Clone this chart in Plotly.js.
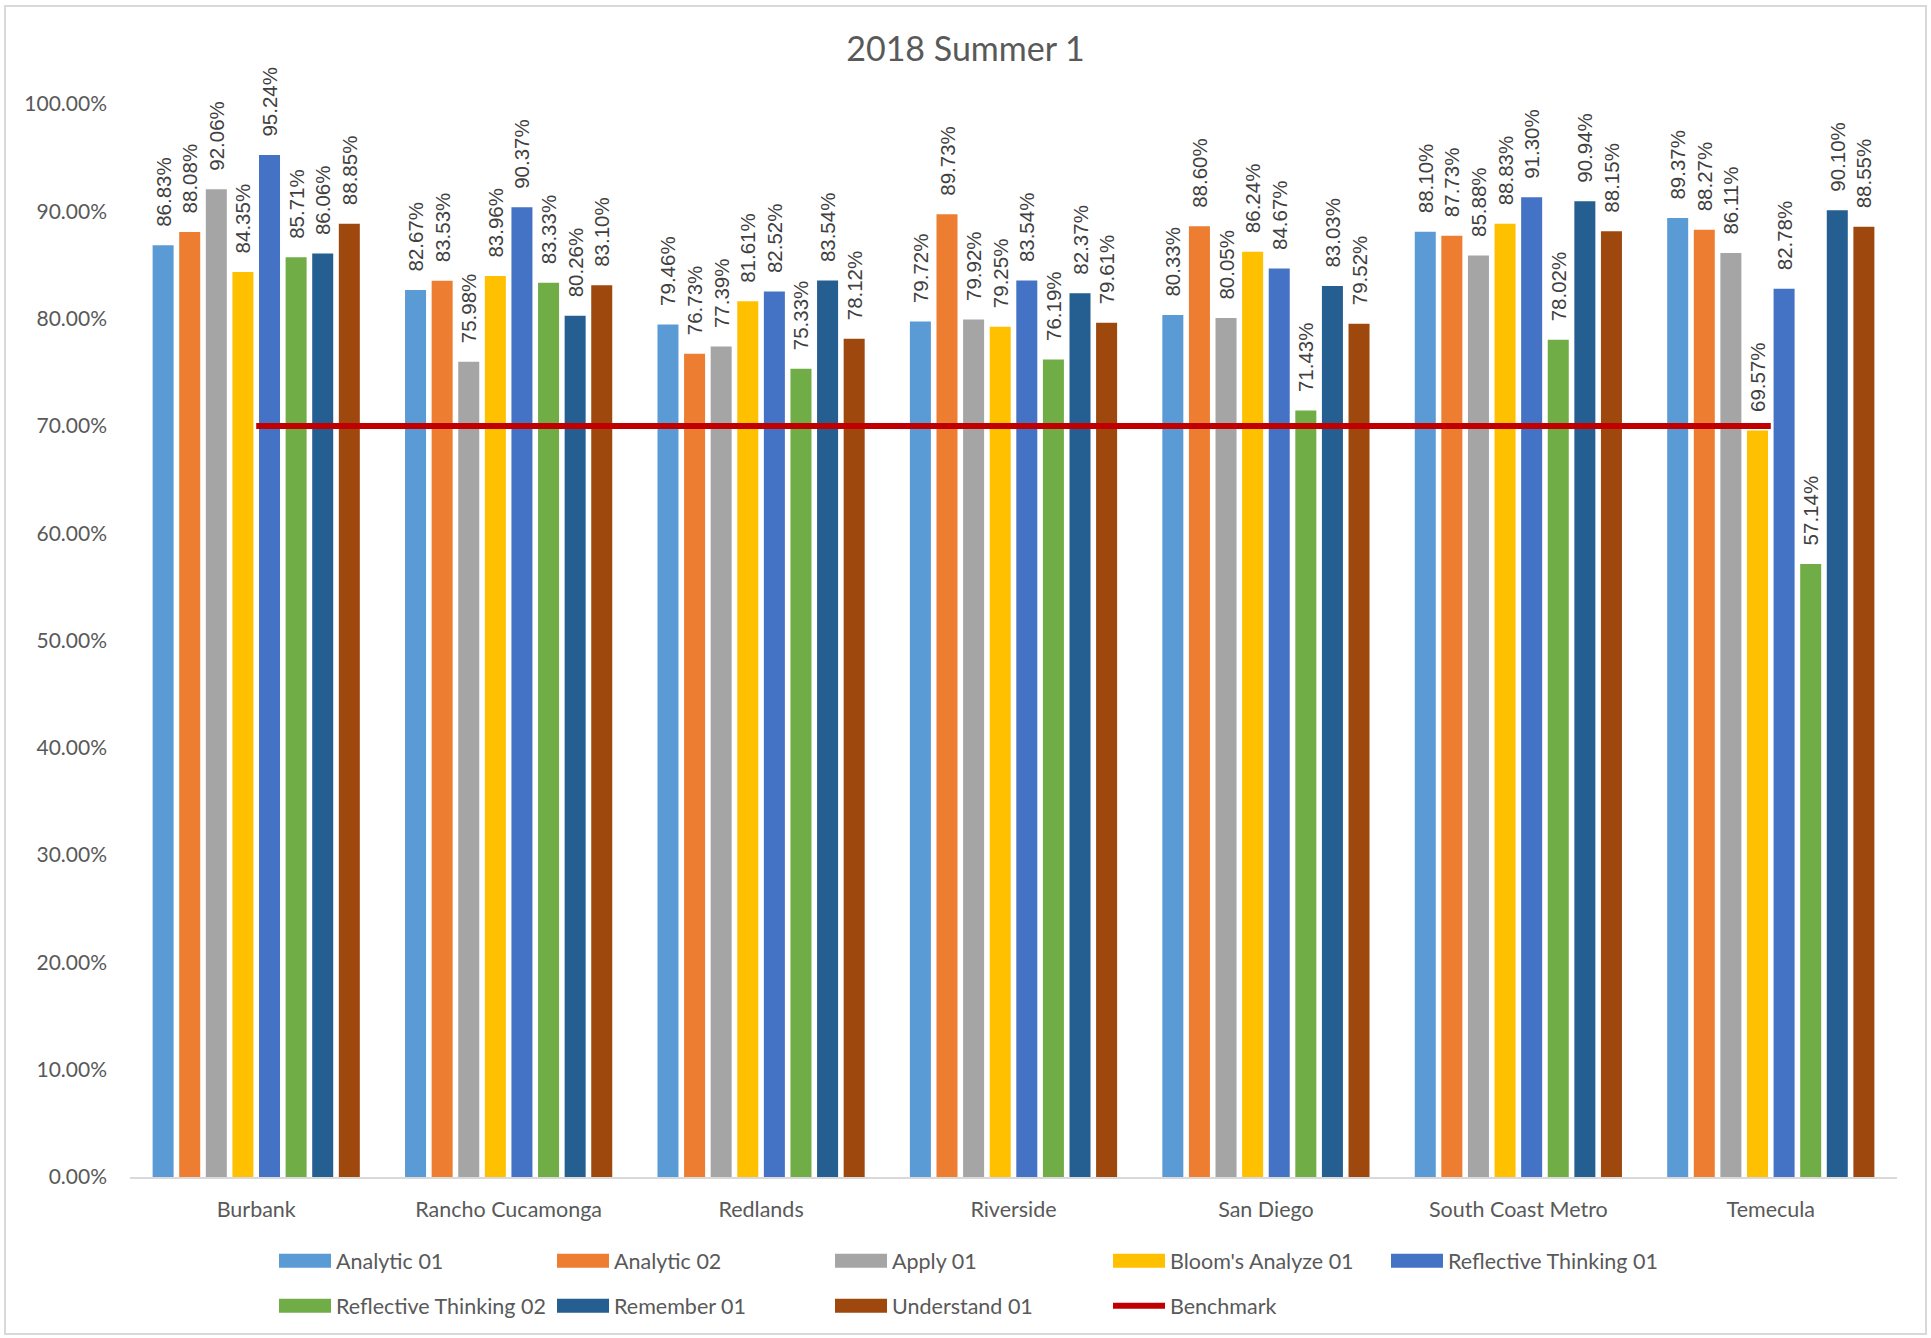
<!DOCTYPE html>
<html>
<head>
<meta charset="utf-8">
<script src="https://cdn.plot.ly/plotly-3.0.1.min.js"></script>
<style>
  html, body { margin: 0; padding: 0; background: #ffffff; }
  #chart { width: 1931px; height: 1338px; }
  #frame { position: absolute; left: 4px; top: 5px; width: 1923px; height: 1330px;
           border: 2px solid #D9D9D9; box-sizing: border-box; pointer-events: none; }
</style>
</head>
<body>
<div id="chart"></div>
<div id="frame"></div>
<script>
// ---- data ----
const campuses = ["Burbank", "Rancho Cucamonga", "Redlands", "Riverside", "San Diego", "South Coast Metro", "Temecula"];

const analytic01      = [86.83, 82.67, 79.46, 79.72, 80.33, 88.10, 89.37];
const analytic02      = [88.08, 83.53, 76.73, 89.73, 88.60, 87.73, 88.27];
const apply01         = [92.06, 75.98, 77.39, 79.92, 80.05, 85.88, 86.11];
const bloomsAnalyze01 = [84.35, 83.96, 81.61, 79.25, 86.24, 88.83, 69.57];
const reflective01    = [95.24, 90.37, 82.52, 83.54, 84.67, 91.30, 82.78];
const reflective02    = [85.71, 83.33, 75.33, 76.19, 71.43, 78.02, 57.14];
const remember01      = [86.06, 80.26, 83.54, 82.37, 83.03, 90.94, 90.10];
const understand01    = [88.85, 83.10, 78.12, 79.61, 79.52, 88.15, 88.55];
const benchmark       = [70, 70, 70, 70, 70, 70, 70];

const seriesNames  = ["Analytic 01", "Analytic 02", "Apply 01", "Bloom's Analyze 01",
                      "Reflective Thinking 01", "Reflective Thinking 02", "Remember 01", "Understand 01"];
const seriesValues = [analytic01, analytic02, apply01, bloomsAnalyze01,
                      reflective01, reflective02, remember01, understand01];
const seriesColors = ["#5B9BD5", "#ED7D31", "#A5A5A5", "#FFC000",
                      "#4472C4", "#70AD47", "#255E91", "#9E480E"];

const yTicks = [0, 10, 20, 30, 40, 50, 60, 70, 80, 90, 100];
const yTickLabels = yTicks.map(v => v.toFixed(2) + "%");

// ---- traces ----
const uiFont = "Lato, 'Open Sans', sans-serif";
const traces = seriesNames.map((name, i) => ({
  type: "bar",
  name: name,
  x: campuses,
  y: seriesValues[i],
  marker: { color: seriesColors[i], line: { width: 0 } },
  texttemplate: "\u00a0\u00a0\u2009%{y:.2f}%",
  textposition: "outside",
  textangle: -90,
  constraintext: "none",
  cliponaxis: false,
  textfont: { family: "'Liberation Sans', Arial, sans-serif", size: 20.5, color: "#404040" },
  hoverinfo: "skip",
  legend: i < 5 ? "legend" : "legend2"
}));

traces.push({
  type: "scatter",
  mode: "lines",
  name: "Benchmark",
  x: campuses,
  y: benchmark,
  line: { color: "#C00000", width: 6 },
  hoverinfo: "skip",
  legend: "legend2"
});

const legendCommon = {
  orientation: "h",
  xref: "paper", yref: "paper",
  xanchor: "left", yanchor: "middle",
  x: 0.0815,
  itemwidth: 52,
  entrywidth: 211,
  entrywidthmode: "pixels",
  font: { family: uiFont, size: 21.5, color: "#595959" },
  bgcolor: "rgba(0,0,0,0)",
  itemclick: false, itemdoubleclick: false
};

const layout = {
  width: 1931,
  height: 1338,
  margin: { l: 130, r: 34, t: 104, b: 159, pad: 0 },
  paper_bgcolor: "#ffffff",
  plot_bgcolor: "#ffffff",
  title: {
    text: "2018 Summer 1",
    font: { family: uiFont, size: 34, color: "#595959" },
    x: 0.5, xref: "container", xanchor: "center",
    y: 1 - 48.7 / 1338, yref: "container", yanchor: "middle"
  },
  barmode: "group",
  bargap: 0.157,
  bargroupgap: 0.21,
  xaxis: {
    type: "category",
    showgrid: false,
    showline: true,
    linecolor: "#D9D9D9",
    linewidth: 2,
    ticks: "",
    ticklabelstandoff: 12,
    tickfont: { family: uiFont, size: 21.5, color: "#595959" },
    fixedrange: true
  },
  yaxis: {
    range: [0, 100],
    tickmode: "array",
    tickvals: yTicks,
    ticktext: yTickLabels,
    showgrid: false,
    zeroline: false,
    showline: false,
    ticks: "",
    ticklabelstandoff: 22,
    tickfont: { family: uiFont, size: 21, color: "#595959" },
    fixedrange: true
  },
  showlegend: true,
  legend: Object.assign({}, legendCommon, { y: (1179 - 1263) / 1075 }),
  legend2: Object.assign({}, legendCommon, { y: (1179 - 1308) / 1075 }),
  hovermode: false
};

Plotly.newPlot("chart", traces, layout, { displayModeBar: false, staticPlot: true }).then(gd => {
  // widen the legend swatches to Excel-style rectangles (both legends)
  document.querySelectorAll("path.legendbar, g.legendpoints path.legendundefined").forEach(p => {
    p.setAttribute("d", "M26,7H-26V-7H26Z");
  });
});
</script>
</body>
</html>
